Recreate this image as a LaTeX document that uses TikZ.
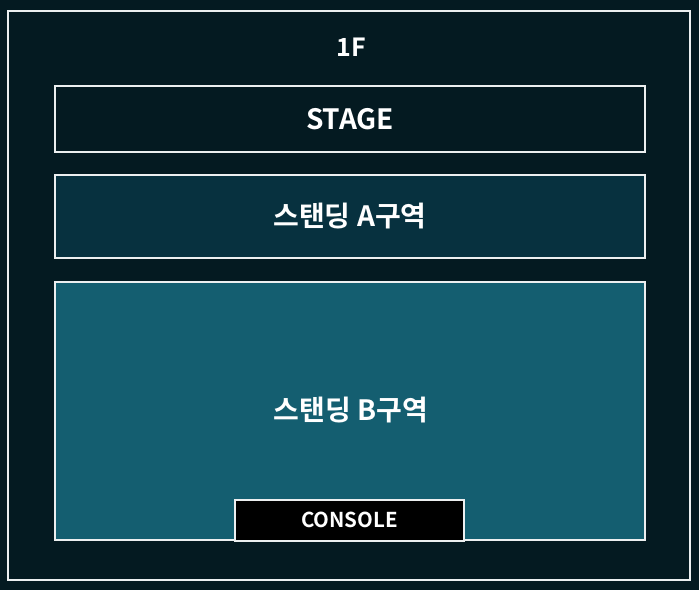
\documentclass[tikz,border=0pt]{standalone}
\usepackage{fontspec}
\setmainfont{Noto Sans CJK KR}[BoldFont={Noto Sans CJK KR Bold}]
\definecolor{hallbg}{HTML}{041A21}
\definecolor{zoneA}{HTML}{07313F}
\definecolor{zoneB}{HTML}{145E70}
\definecolor{rim}{HTML}{ECEFF0}

\begin{document}
\begin{tikzpicture}[x=1pt,y=-1pt]
        \tikzset{Zone/.style={draw=rim,line width=2pt,text=white,
                              font=\bfseries\fontsize{28}{31}\selectfont}}

        \useasboundingbox (0,0) rectangle (699,590);
        \fill[hallbg] (0,0) rectangle (699,590);

        \node[Zone,fill=hallbg,minimum width=682pt,minimum height=569pt] (FLOOR) at (349,295.5) {};
        \node[text=white,font=\bfseries\fontsize{25}{28}\selectfont] (LVL) at (351,47) {1F};

        \node[Zone,fill=hallbg,minimum width=590pt,minimum height=66pt] (STAGE) at (350,119) {STAGE};
        \node[Zone,fill=zoneA,minimum width=590pt,minimum height=83pt] (ZA) at (350,216.5) {스탠딩 A구역};
        \node[Zone,fill=zoneB,minimum width=590pt,minimum height=258pt] (ZB) at (350,411) {};
        \node[text=white,font=\bfseries\fontsize{28}{31}\selectfont] (ZBL) at (351,410) {스탠딩 B구역};

        \node[Zone,fill=black,minimum width=229pt,minimum height=41pt,
              font=\bfseries\fontsize{20.5}{23}\selectfont] (CON) at (349.5,520) {CONSOLE};
    \end{tikzpicture}
\end{document}
